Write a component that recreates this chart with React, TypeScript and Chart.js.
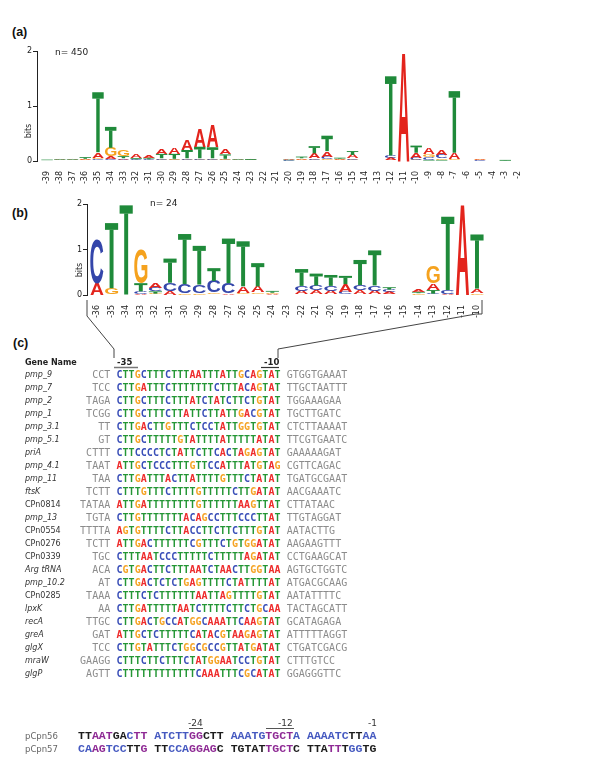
import React, { useEffect, useRef } from 'react';
import { Chart, registerables } from 'chart.js';

Chart.register(...registerables);

// ---------- Panel (a) logo data (bits per letter) ----------
const positionsA = [-39, -38, -37, -36, -35, -34, -33, -32, -31, -30, -29, -28, -27, -26, -25, -24, -23, -22, -21, -20, -19, -18, -17, -16, -15, -14, -13, -12, -11, -10, -9, -8, -7, -6, -5, -4, -3, -2];
const bitsA_A = [0.005, 0.01, 0.01, 0.02, 0.10, 0.05, 0.03, 0.06, 0.05, 0.10, 0.11, 0.19, 0.33, 0.39, 0.09, 0.01, 0.01, 0, 0, 0.02, 0.03, 0.09, 0.10, 0.02, 0.06, 0, 0, 0.04, 1.99, 0.09, 0.12, 0.10, 0.11, 0.005, 0.025, 0, 0.005, 0];
const bitsA_C = [0.005, 0.005, 0.005, 0.01, 0.03, 0.03, 0.02, 0.02, 0.02, 0.03, 0.02, 0.03, 0.03, 0.03, 0.02, 0.005, 0.005, 0, 0, 0.01, 0.01, 0.03, 0.05, 0.01, 0.03, 0, 0, 0.05, 0, 0.04, 0.05, 0.06, 0.01, 0.005, 0.01, 0, 0, 0];
const bitsA_G = [0.005, 0.005, 0.005, 0.01, 0.03, 0.16, 0.12, 0.01, 0.01, 0.02, 0.02, 0.02, 0.02, 0.02, 0.02, 0.005, 0.005, 0, 0, 0.005, 0.01, 0.02, 0.03, 0.01, 0.02, 0, 0, 0.01, 0, 0.02, 0.05, 0.03, 0.03, 0.003, 0.01, 0, 0, 0];
const bitsA_T = [0.01, 0.01, 0.01, 0.03, 1.09, 0.38, 0.04, 0.02, 0.03, 0.08, 0.09, 0.15, 0.21, 0.20, 0.08, 0.01, 0.015, 0, 0, 0.01, 0.03, 0.13, 0.28, 0.02, 0.07, 0, 0, 1.44, 0, 0.13, 0.02, 0.02, 1.12, 0.005, 0.005, 0, 0.015, 0];

// ---------- Panel (b) logo data ----------
const positionsB = [-36, -35, -34, -33, -32, -31, -30, -29, -28, -27, -26, -25, -24, -23, -22, -21, -20, -19, -18, -17, -16, -15, -14, -13, -12, -11, -10];
const bitsB_A = [0.26, 0, 0, 0.03, 0.12, 0.08, 0.01, 0.01, 0.02, 0.03, 0.15, 0.13, 0.02, 0, 0.07, 0.08, 0.07, 0.17, 0.09, 0.07, 0.05, 0, 0.04, 0.15, 0.03, 2.0, 0.09];
const bitsB_C = [0.99, 0, 0, 0.05, 0.08, 0.18, 0.20, 0.18, 0.25, 0.22, 0.02, 0.02, 0.01, 0, 0.11, 0.11, 0.11, 0.05, 0.11, 0.12, 0.05, 0, 0.01, 0.03, 0.08, 0, 0.01];
const bitsB_G = [0, 0.15, 0, 0.74, 0.03, 0.01, 0.03, 0.04, 0.04, 0.01, 0.02, 0.04, 0.02, 0, 0.02, 0.02, 0.02, 0.02, 0.02, 0.02, 0.02, 0, 0.03, 0.37, 0, 0, 0.04];
const bitsB_T = [0, 1.43, 1.97, 0.18, 0.05, 0.53, 1.10, 0.85, 0.28, 0.98, 0.99, 0.51, 0.04, 0, 0.37, 0.26, 0.24, 0.18, 0.55, 0.77, 0.05, 0, 0.03, 0.08, 1.61, 0, 1.19];

const yTicks = [0, 1, 2];
const yTitle = 'bits';

// ---------- Panel (c) alignment ----------
const geneNames = ['pmp_9', 'pmp_7', 'pmp_2', 'pmp_1', 'pmp_3.1', 'pmp_5.1', 'priA', 'pmp_4.1', 'pmp_11', 'ftsK', 'CPn0814', 'pmp_13', 'CPn0554', 'CPn0276', 'CPn0339', 'Arg tRNA', 'pmp_10.2', 'CPn0285', 'lpxK', 'recA', 'greA', 'glgX', 'mraW', 'glgP'];
const upstream = ['CCT', 'TCC', 'TAGA', 'TCGG', 'TT', 'GT', 'CTTT', 'TAAT', 'TAA', 'TCTT', 'TATAA', 'TGTA', 'TTTTA', 'TCTT', 'TGC', 'ACA', 'AT', 'TAAA', 'AA', 'TTGC', 'GAT', 'TCC', 'GAAGG', 'AGTT'];
const coreSeqs = [
  'CTTGCTTTCTTTAATTTATTGCAGTAT',
  'CTTGATTTCTTTTTTTCTTTACAGTAT',
  'CTTGCTTTCTTTATCTATCTTCTGTAT',
  'CTTGCTTTCTTATTCTTATTGACGTAT',
  'CTTGACTTGTTTCTCCTATTGGTGTAT',
  'CTTGCTTTTTGTATTTTATTTTTATAT',
  'CTTCCCCTCTATTCTTCACTAGAGTAT',
  'ATTGCTCCCTTTGTTCCATTTATGTAG',
  'CTTGATTTACTTATTTTGTTTCTATAT',
  'CTTTGTTTCTTTTGTTTTTCTTGATAT',
  'ATTGATTTTTTTTGTTTTTTAAGTTAT',
  'CTTGTTTTTTTACAGCCTTTCCCTTAT',
  'AGTGTTTTCTTACCTTCTTCTTTGTAT',
  'ATTGACTTTTTTCGTTTCTGTGGATAT',
  'CTTTAATCCCTTTTTCTTTTTAGATAT',
  'CGTGACTTCTTTAATCTAACTTGGTAA',
  'CTTGACTCTCTGAGTTTTCTATTTTAT',
  'CTTTCTCTTTTTTAATTAGTTTTGTAT',
  'CTTGATTTTTAATCTTTTCTTCTGCAA',
  'CTTGACTGCCATGGCAAATTCAAGTAT',
  'ATTGCTCTTTTTCATACGTAAGAGTAT',
  'CTTGTATTTCTGGCGCCGTTATGATAT',
  'CTTTCTTCTTTCTATGGAATCCTGTAT',
  'CTTTTTTTTTTTTCAAATTTCGCATAT',
];
const downstream = ['GTGGTGAAAT', 'TTGCTAATTT', 'TGGAAAGAA', 'TGCTTGATC', 'CTCTTAAAAT', 'TTCGTGAATC', 'GAAAAAGAT', 'CGTTCAGAC', 'TGATGCGAAT', 'AACGAAATC', 'CTTATAAC', 'TTGTAGGAT', 'AATACTTG', 'AAGAAGTTT', 'CCTGAAGCAT', 'AGTGCTGGTC', 'ATGACGCAAG', 'AATATTTTC', 'TACTAGCATT', 'GCATAGAGA', 'ATTTTTAGGT', 'CTGATCGACG', 'CTTTGTCC', 'GGAGGGTTC'];

// ---------- bottom plasmid promoters ----------
const plasmidNames = ['pCpn56', 'pCpn57'];
const plasmidSeqs = [
  'TTAATGACTT ATCTTGGCTT AAATGTGCTA AAAATCTTAA',
  'CAAGTCCTTG TTCCAGGAGC TGTATTGCTC TTATTTGGTG',
];
const plasmidColorCodes = [
  'kkpppkkbpp bbbbbppkkk bbbbbppppb bbbbbbkkbb',
  'bbppbbbkkp kkbbbppppk kkkkkppppk kkkppkbbkk',
];
const plasmidMarks = ['-24', '-12', '-1'];

// ---------- styling ----------
const LETTER_COLORS: Record<string, string> = { A: '#e3241c', C: '#3446aa', G: '#f5a21e', T: '#1f8a3a' };
const SEQ_COLORS: Record<string, string> = { A: '#ee2d2d', C: '#3a4fb8', G: '#f5a426', T: '#249635' };
const PL_COLORS: Record<string, string> = { k: '#1c1c1c', p: '#8f2b95', b: '#4559c0' };
const LETTERS = ['A', 'C', 'G', 'T'];

const metricCache: Record<string, any> = {};
function drawLetter(ctx: CanvasRenderingContext2D, letter: string, x0: number, y0: number, w: number, h: number, color: string) {
  if (h < 0.35 || w <= 0) return;
  ctx.save();
  ctx.fillStyle = color;
  if (letter === 'T') {
    // T glyph: full-width bar on top, narrow stem
    const cb = Math.max(Math.min(h * 0.24, 2.5 + h * 0.065), Math.min(h, 0.8));
    const sw = w * 0.3;
    ctx.fillRect(x0, y0, w, cb);
    if (h > cb) ctx.fillRect(x0 + (w - sw) / 2, y0 + cb - 0.2, sw, h - cb + 0.2);
    ctx.restore();
    return;
  }
  ctx.font = 'bold 100px "Liberation Sans", Arial, sans-serif';
  let m = metricCache[letter];
  if (!m) {
    const mm = ctx.measureText(letter);
    m = {
      l: mm.actualBoundingBoxLeft,
      r: mm.actualBoundingBoxRight,
      a: mm.actualBoundingBoxAscent,
      d: mm.actualBoundingBoxDescent,
    };
    metricCache[letter] = m;
  }
  const gw = m.l + m.r;
  const gh = m.a + m.d;
  ctx.translate(x0, y0);
  ctx.scale(w / gw, h / gh);
  ctx.textBaseline = 'alphabetic';
  ctx.textAlign = 'left';
  ctx.fillText(letter, m.l, m.a);
  ctx.restore();
}

const logoPlugin = {
  id: 'logoLetters',
  afterDatasetsDraw(chart: any) {
    const ctx = chart.ctx as CanvasRenderingContext2D;
    chart.data.datasets.forEach((ds: any, di: number) => {
      const meta = chart.getDatasetMeta(di);
      meta.data.forEach((bar: any, i: number) => {
        const p = bar.getProps(['x', 'y', 'base', 'width'], true);
        const letter = ds.letters[i];
        const top = Math.min(p.y, p.base);
        const h = Math.abs(p.base - p.y);
        drawLetter(ctx, letter, p.x - p.width / 2, top, p.width, h, LETTER_COLORS[letter]);
      });
    });
  },
};

function buildRankDatasets(positions: number[], heights: Record<string, number[]>) {
  const datasets: any[] = [0, 1, 2, 3].map((r) => ({
    label: 'rank' + r,
    data: [] as any[],
    letters: [] as string[],
    backgroundColor: 'rgba(0,0,0,0)',
    borderWidth: 0,
    barPercentage: 0.9,
    categoryPercentage: 1,
  }));
  positions.forEach((pos, i) => {
    const order = LETTERS.slice().sort((a, b) => heights[a][i] - heights[b][i]);
    order.forEach((letter, r) => {
      datasets[r].data.push({ x: pos, y: heights[letter][i] });
      datasets[r].letters.push(letter);
    });
  });
  return datasets;
}

type LogoProps = {
  positions: number[];
  heights: Record<string, number[]>;
  width: number;
  height: number;
  xMin: number;
  xMax: number;
  padding: { left: number; right: number; top: number; bottom: number };
  yWidth: number;
  xHeight: number;
  style: React.CSSProperties;
};

function LogoChart(props: LogoProps) {
  const ref = useRef<HTMLCanvasElement | null>(null);
  useEffect(() => {
    if (!ref.current) return;
    const chart = new Chart(ref.current, {
      type: 'bar',
      data: { datasets: buildRankDatasets(props.positions, props.heights) },
      options: {
        responsive: false,
        animation: false,
        events: [],
        layout: { padding: props.padding },
        plugins: { legend: { display: false }, tooltip: { enabled: false } },
        scales: {
          x: {
            type: 'linear',
            stacked: true,
            offset: false,
            min: props.xMin,
            max: props.xMax,
            grid: { display: false },
            border: { display: false },
            afterFit: (s: any) => { s.height = props.xHeight; },
            ticks: {
              stepSize: 1,
              includeBounds: false,
              autoSkip: false,
              maxTicksLimit: 200,
              minRotation: 90,
              maxRotation: 90,
              padding: 2,
              color: '#222',
              font: { size: 8, family: '"DejaVu Sans", sans-serif' },
              callback: (v: any) => String(v),
            },
          } as any,
          y: {
            stacked: true,
            min: 0,
            max: 2,
            afterFit: (s: any) => { s.width = props.yWidth; },
            afterBuildTicks: (s: any) => { s.ticks = yTicks.map((v) => ({ value: v })); },
            grid: { drawOnChartArea: false, drawTicks: true, tickLength: 4, color: '#222', lineWidth: 1 },
            border: { display: true, color: '#222', width: 1 },
            title: { display: false },
            ticks: {
              padding: 1,
              color: '#222',
              font: { size: 8, family: '"DejaVu Sans", sans-serif' },
              callback: (v: any) => String(v),
            },
          },
        },
      } as any,
      plugins: [logoPlugin],
    });
    return () => chart.destroy();
  }, []);
  return <canvas ref={ref} width={props.width} height={props.height} style={{ position: 'absolute', ...props.style, width: props.width, height: props.height }} />;
}

function Txt({ x, y, children, style }: { x: number; y: number; children: any; style?: React.CSSProperties }) {
  return (
    <div style={{ position: 'absolute', left: x, top: y - 7, height: 14, lineHeight: '14px', whiteSpace: 'pre', ...style }}>
      {children}
    </div>
  );
}

function VTxt({ cx, cy, children }: { cx: number; cy: number; children: any }) {
  return (
    <div style={{ position: 'absolute', left: cx - 20, top: cy - 6, width: 40, height: 12, lineHeight: '12px', textAlign: 'center', fontSize: 8, color: '#222', transform: 'rotate(-90deg)', transformOrigin: '50% 50%' }}>
      {children}
    </div>
  );
}

const SANS = '"DejaVu Sans", Verdana, sans-serif';
const MONO = '"DejaVu Sans Mono", monospace';

export default function App() {
  const rowY0 = 375;
  const rowStep = 13;
  return (
    <div style={{ position: 'absolute', left: 0, top: 0, width: 600, height: 760, background: '#fff', overflow: 'hidden', fontFamily: SANS }}>
      {/* Panel labels */}
      <Txt x={12} y={32} style={{ fontWeight: 'bold', fontSize: 12.5, fontFamily: '"Liberation Sans", Arial, sans-serif', color: '#111' }}>(a)</Txt>
      <Txt x={12} y={213} style={{ fontWeight: 'bold', fontSize: 12.5, fontFamily: '"Liberation Sans", Arial, sans-serif', color: '#111' }}>(b)</Txt>
      <Txt x={13} y={343} style={{ fontWeight: 'bold', fontSize: 12.5, fontFamily: '"Liberation Sans", Arial, sans-serif', color: '#111' }}>(c)</Txt>

      <LogoChart
        positions={positionsA}
        heights={{ A: bitsA_A, C: bitsA_C, G: bitsA_G, T: bitsA_T }}
        width={600}
        height={150}
        xMin={-39.79}
        xMax={-1.45}
        padding={{ left: 19, right: 75, top: 11, bottom: 0 }}
        yWidth={18}
        xHeight={29}
        style={{ left: 0, top: 40 }}
      />
      <VTxt cx={28.5} cy={131}>{yTitle}</VTxt>
      <Txt x={55} y={52} style={{ fontSize: 9, color: '#222' }}>n= 450</Txt>

      <LogoChart
        positions={positionsB}
        heights={{ A: bitsB_A, C: bitsB_C, G: bitsB_G, T: bitsB_T }}
        width={600}
        height={140}
        xMin={-36.68}
        xMax={-9.52}
        padding={{ left: 70, right: 116, top: 14, bottom: 0 }}
        yWidth={17}
        xHeight={35}
        style={{ left: 0, top: 190 }}
      />
      <VTxt cx={80} cy={270}>{yTitle}</VTxt>
      <Txt x={150} y={203} style={{ fontSize: 9, color: '#222' }}>n= 24</Txt>

      {/* connector lines */}
      <svg width={600} height={760} style={{ position: 'absolute', left: 0, top: 0, pointerEvents: 'none' }}>
        <polyline points="87,300 87,316 114,349 114,358" fill="none" stroke="#444" strokeWidth={1} />
        <polyline points="482,300 482,314 476,314 278,349 278,358" fill="none" stroke="#444" strokeWidth={1} />
        <line x1={114} y1={367.5} x2={138} y2={367.5} stroke="#777" strokeWidth={1.5} />
        <line x1={261} y1={367.5} x2={279} y2={367.5} stroke="#333" strokeWidth={1.2} />
        <line x1={189} y1={728.5} x2={203} y2={728.5} stroke="#555" strokeWidth={1} />
        <line x1={266} y1={728.5} x2={294} y2={728.5} stroke="#555" strokeWidth={1} />
      </svg>

      {/* header */}
      <Txt x={25} y={363} style={{ fontWeight: 'bold', fontSize: 8, color: '#222' }}>Gene Name</Txt>
      <Txt x={117} y={362} style={{ fontWeight: 'bold', fontSize: 8.5, color: '#222' }}>-35</Txt>
      <Txt x={264} y={362} style={{ fontWeight: 'bold', fontSize: 8.5, color: '#222' }}>-10</Txt>

      {geneNames.map((name, i) => {
        const y = rowY0 + i * rowStep;
        const italic = !name.startsWith('CPn');
        return (
          <React.Fragment key={name}>
            <Txt x={25} y={y} style={{ fontSize: 8, fontStyle: italic ? 'italic' : 'normal', color: '#333' }}>{name}</Txt>
            <Txt x={80} y={y} style={{ fontFamily: MONO, fontSize: 10, letterSpacing: '0.05px', color: '#8c8c8c' }}>
              <span>{upstream[i].padStart(5, ' ')} </span>
              <span style={{ fontWeight: 'bold' }}>
                {coreSeqs[i].split('').map((ch, j) => (
                  <span key={j} style={{ color: SEQ_COLORS[ch] }}>{ch}</span>
                ))}
              </span>
              <span> {downstream[i]}</span>
            </Txt>
          </React.Fragment>
        );
      })}

      {/* plasmid promoters */}
      <Txt x={188} y={723} style={{ fontSize: 9, color: '#333' }}>{plasmidMarks[0]}</Txt>
      <Txt x={278} y={723} style={{ fontSize: 9, color: '#333' }}>{plasmidMarks[1]}</Txt>
      <Txt x={368} y={723} style={{ fontSize: 9, color: '#333' }}>{plasmidMarks[2]}</Txt>
      {plasmidNames.map((name, i) => {
        const y = 736 + i * 13;
        const codes = plasmidColorCodes[i];
        return (
          <React.Fragment key={name}>
            <Txt x={25} y={y} style={{ fontSize: 8.5, color: '#666' }}>{name}</Txt>
            <Txt x={78} y={y} style={{ fontFamily: '"Liberation Mono", "Courier New", monospace', fontWeight: 'bold', fontSize: 11.55 }}>
              {plasmidSeqs[i].split('').map((ch, j) => (
                <span key={j} style={{ color: PL_COLORS[codes[j]] || '#1c1c1c' }}>{ch}</span>
              ))}
            </Txt>
          </React.Fragment>
        );
      })}
    </div>
  );
}
